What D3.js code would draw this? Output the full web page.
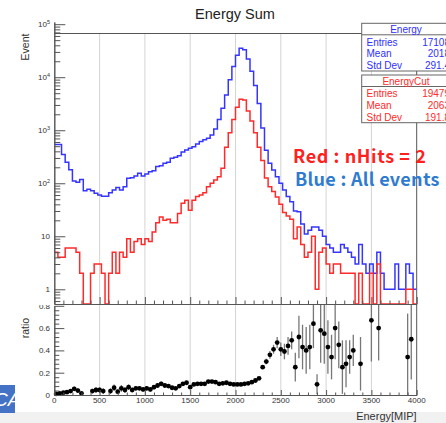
<!DOCTYPE html>
<html lang="en">
<head>
<meta charset="UTF-8">
<title>Energy Sum</title>
<script src="https://cdn.jsdelivr.net/npm/d3@7"></script>
<style>
  body { margin: 0; background: #fff; }
  svg { display: block; font-family: "Liberation Sans", Arial, sans-serif; }
</style>
</head>
<body>
<svg width="446" height="423"></svg>
<script>
// 100 bins of 40 MIP, 0 - 4000
var binWidth = 40;
var nBins = 100;

// all events (blue)
var blueAll = [
  540, 540, 350, 250, 180, 110, 104, 118, 72, 77,
  72, 65, 60, 57, 57, 66, 75, 83, 75, 86,
  124, 127, 137, 154, 137, 150, 165, 173, 207, 215,
  238, 250, 297, 310, 330, 390, 425, 456, 490, 550,
  610, 660, 705, 815, 1050, 1600, 2600, 4600, 9000, 16000,
  26000, 35000, 33000, 22000, 13000, 7000, 3200, 1100, 420, 238,
  178, 133, 100, 75, 56, 45, 30, 29, 17, 11,
  13, 15, 15, 13, 10, 7, 6, 5, 5, 7,
  6, 5, 4, 3, 7, 3, 2, 3, 2, 5,
  2, 1, 1, 1, 3, 1, 1, 3, 2, 1
];

// nHits == 2 (red)
var redCut = [
  5, 4, 4, 6, 6, 6, 5, 2, 0, 0,
  2, 3, 3, 2, 0, 2, 5, 2, 5, 4,
  9, 5, 8, 9, 7, 9, 8, 12, 18, 23,
  20, 21, 18, 18, 27, 42, 48, 31, 48, 56,
  60, 66, 86, 100, 115, 133, 192, 480, 900, 1600,
  2700, 3850, 3700, 2300, 1500, 900, 480, 270, 126, 86,
  70, 55, 40, 28, 24, 21, 9, 15, 7, 4,
  5, 10, 1, 5, 6, 3, 2, 3, 3, 2,
  2, 2, 2, 0, 2, 0, 0, 2, 0, 3,
  0, 0, 0, 0, 0, 0, 0, 1, 1, 0
];

// ratio red / blue per bin (null = no point)
var ratio = [
  .01, .015, .02, .025, .035, .055, .04, .015, null, null,
  .035, .045, .045, .035, null, .035, .065, .03, .06, .045,
  .07, .045, .06, .06, .05, .06, .05, .07, .085, .1,
  .085, .08, .065, .06, .08, .1, .11, .07, .095, .1,
  .1, .1, .12, .12, .115, .1, .105, .11, .1, .095,
  .095, .095, .1, .105, .115, .13, .15, .25, .3, .36,
  .41, .47, .41, .39, .44, .49, .25, .52, .43, .4,
  .43, .64, .096, .58, .55, .43, .34, .6, .45, .25,
  .28, .34, .4, null, .28, null, null, .67, null, .6,
  null, null, null, null, null, null, null, .34, .5, null
];
var ratioErr = [
  .005, .008, .01, .01, .015, .02, .02, .01, 0, 0,
  .02, .025, .025, .025, 0, .025, .03, .02, .03, .025,
  .025, .02, .02, .02, .02, .02, .02, .02, .02, .02,
  .02, .015, .015, .015, .015, .015, .015, .012, .012, .012,
  .012, .012, .012, .01, .01, .008, .006, .005, .004, .003,
  .002, .002, .002, .003, .004, .006, .008, .015, .025, .035,
  .04, .05, .06, .07, .08, .08, .13, .19, .2, .21,
  .2, .22, .09, .29, .27, .24, .2, .28, .21, .24,
  .21, .15, .14, 0, .24, 0, 0, .37, 0, .29,
  0, 0, 0, 0, 0, 0, 0, .39, .36, 0
];

var xMajor = [0, 500, 1000, 1500, 2000, 2500, 3000, 3500, 4000];
var yDecades = [1, 10, 100, 1000, 10000, 100000];
var ratioMajor = [0, 0.2, 0.4, 0.6, 0.8];

var stats = [
  {name: 'Energy', color: '#2f2fff', rows: [['Entries', '17108'], ['Mean', '2018'], ['Std Dev', '291.4']]},
  {name: 'EnergyCut', color: '#ff2a2a', rows: [['Entries', '19479'], ['Mean', '2063'], ['Std Dev', '191.8']]}
];

var svg = d3.select('svg');
var left = 54.3, right = 416.7;
var upTop = 22, upBot = 304;
var loTop = 305, loBot = 395;

var x = d3.scaleLinear().domain([0, 4000]).range([left, right]);
var y = d3.scaleLog().domain([0.528, 110000]).range([upBot, upTop]);
var yr = d3.scaleLinear().domain([0, 0.8]).range([loBot, 305.8]);

var axisCol = '#555';

// bits of the slide around the chart
svg.append('rect').attr('x', 0).attr('y', 412).attr('width', 446).attr('height', 11).attr('fill', '#f1f1f1');
svg.append('clipPath').attr('id', 'caclip').append('rect')
  .attr('x', 0).attr('y', 385).attr('width', 15).attr('height', 28);
svg.append('rect').attr('x', 0).attr('y', 385).attr('width', 15).attr('height', 28).attr('fill', '#4472c4');
svg.append('text').attr('x', -6).attr('y', 406).attr('fill', '#fff').attr('font-size', 19)
  .attr('font-style', 'italic').attr('clip-path', 'url(#caclip)').text('CA');
svg.append('text').attr('x', 0).attr('y', -3).attr('font-size', 14).attr('font-weight', 'bold').text('up');

// title
svg.append('text').attr('x', 235).attr('y', 18.5).attr('text-anchor', 'middle')
  .attr('font-size', 14.5).attr('fill', '#222').text('Energy Sum');

// ---------- upper pad ----------
var up = svg.append('g');

// grid
up.selectAll('.grid').data(xMajor.slice(1, -1)).enter().append('line')
  .attr('x1', d => x(d)).attr('x2', d => x(d))
  .attr('y1', 33.5).attr('y2', upBot)
  .attr('stroke', '#d4d4d4').attr('stroke-width', 1);

// frame top / right
up.append('line').attr('x1', left).attr('x2', 362).attr('y1', 33.5).attr('y2', 33.5).attr('stroke', axisCol);
up.append('line').attr('x1', right).attr('x2', right).attr('y1', 33.5).attr('y2', upBot).attr('stroke', axisCol);

// histograms
up.append('clipPath').attr('id', 'upclip').append('rect')
  .attr('x', left).attr('y', upTop).attr('width', right - left).attr('height', upBot - upTop + 1);

function stepPts(vals) {
  var pts = vals.map((v, i) => [i * binWidth, v]);
  pts.push([nBins * binWidth, vals[vals.length - 1]]);
  return pts;
}
var histLine = d3.line()
  .x(d => x(d[0]))
  .y(d => d[1] > 0 ? y(d[1]) : upBot)
  .curve(d3.curveStepAfter);

up.append('path').datum(stepPts(blueAll)).attr('d', histLine)
  .attr('fill', 'none').attr('stroke', '#3535ff').attr('stroke-width', 1.5).attr('clip-path', 'url(#upclip)');
up.append('path').datum(stepPts(redCut)).attr('d', histLine)
  .attr('fill', 'none').attr('stroke', '#ff2a2a').attr('stroke-width', 1.5).attr('clip-path', 'url(#upclip)');

// y axis (log)
var minorLog = [];
[0.1, 1, 10, 100, 1000, 10000].forEach(function (dec) {
  for (var m = 2; m <= 9; m++) {
    var v = dec * m;
    if (v > y.domain()[0] && v < y.domain()[1]) minorLog.push(v);
  }
});
var yMaj = up.append('g').attr('transform', 'translate(' + left + ',0)')
  .call(d3.axisLeft(y).tickValues(yDecades).tickSize(-11).tickSizeOuter(0).tickFormat(''));
var yMin = up.append('g').attr('transform', 'translate(' + left + ',0)')
  .call(d3.axisLeft(y).tickValues(minorLog).tickSize(-6).tickSizeOuter(0).tickFormat(''));
[yMaj, yMin].forEach(g => { g.selectAll('line, path').attr('stroke', axisCol); });

yDecades.forEach(function (d) {
  var t = up.append('text').attr('x', 50).attr('y', y(d) + 3).attr('text-anchor', 'end')
    .attr('font-size', 8).attr('fill', '#333');
  if (d === 1) t.text('1');
  else if (d === 10) t.text('10');
  else {
    t.append('tspan').text('10');
    t.append('tspan').attr('dy', -3.5).attr('font-size', 5.5).text(Math.round(Math.log10(d)));
  }
});

// x axis of the upper pad (no labels)
var xMinor = d3.range(0, 4001, 100).filter(d => d % 500 !== 0);
var uxMaj = up.append('g').attr('transform', 'translate(0,' + upBot + ')')
  .call(d3.axisBottom(x).tickValues(xMajor).tickSize(-7).tickSizeOuter(0).tickFormat(''));
var uxMin = up.append('g').attr('transform', 'translate(0,' + upBot + ')')
  .call(d3.axisBottom(x).tickValues(xMinor).tickSize(-3.5).tickSizeOuter(0).tickFormat(''));
[uxMaj, uxMin].forEach(g => { g.selectAll('line, path').attr('stroke', axisCol); });

up.append('text').attr('transform', 'translate(28.5,47) rotate(-90)').attr('text-anchor', 'middle')
  .attr('font-size', 10.5).attr('fill', '#333').text('Event');

// stat boxes
var boxX = 361.7, boxW = 100;
var boxTops = [23.3, 75];
stats.forEach(function (s, k) {
  var by = boxTops[k];
  var gb = svg.append('g');
  gb.append('rect').attr('x', boxX).attr('y', by).attr('width', boxW).attr('height', 47.7)
    .attr('fill', '#fff').attr('stroke', '#666').attr('stroke-width', 1);
  gb.append('line').attr('x1', boxX).attr('x2', boxX + boxW).attr('y1', by + 11.5).attr('y2', by + 11.5)
    .attr('stroke', '#666');
  gb.append('text').attr('x', 406).attr('y', by + 9.5).attr('text-anchor', 'middle')
    .attr('font-size', 10).attr('fill', s.color).text(s.name);
  s.rows.forEach(function (r, j) {
    var ty = by + 22.3 + j * 11.7;
    gb.append('text').attr('x', 366.5).attr('y', ty).attr('font-size', 10).attr('fill', s.color).text(r[0]);
    gb.append('text').attr('x', 450).attr('y', ty).attr('text-anchor', 'end')
      .attr('font-size', 10).attr('fill', s.color).text(r[1]);
  });
});

// annotations
svg.append('text').attr('x', 293).attr('y', 163).attr('font-size', 18).attr('font-weight', 'bold')
  .attr('letter-spacing', 0.6)
  .attr('font-family', '"Noto Sans CJK JP", "Noto Sans", sans-serif')
  .attr('fill', '#ff2020').text('Red : nHits = 2');
svg.append('text').attr('x', 295).attr('y', 185.5).attr('font-size', 18).attr('font-weight', 'bold')
  .attr('letter-spacing', 0.3)
  .attr('font-family', '"Noto Sans CJK JP", "Noto Sans", sans-serif')
  .attr('fill', '#2e7bcf').text('Blue : All events');

// ---------- lower pad ----------
var lo = svg.append('g');
lo.append('clipPath').attr('id', 'loclip').append('rect')
  .attr('x', 0).attr('y', loTop).attr('width', 446).attr('height', loBot - loTop + 30);
var loIn = lo.append('g').attr('clip-path', 'url(#loclip)');

loIn.selectAll('.lgrid').data(xMajor.slice(1, -1)).enter().append('line')
  .attr('x1', d => x(d)).attr('x2', d => x(d))
  .attr('y1', loTop).attr('y2', loBot)
  .attr('stroke', '#d4d4d4');
loIn.append('line').attr('x1', right).attr('x2', right).attr('y1', loTop).attr('y2', loBot).attr('stroke', axisCol);

var pts = ratio.map((r, i) => ({c: i * binWidth + binWidth / 2, r: r, e: ratioErr[i]})).filter(d => d.r !== null);
loIn.selectAll('.err').data(pts.filter(d => d.e > 0)).enter().append('line')
  .attr('x1', d => x(d.c)).attr('x2', d => x(d.c))
  .attr('y1', d => yr(Math.max(0, d.r - d.e))).attr('y2', d => yr(d.r + d.e))
  .attr('stroke', '#777').attr('stroke-width', 1.3);
loIn.selectAll('.pt').data(pts).enter().append('circle')
  .attr('cx', d => x(d.c)).attr('cy', d => yr(d.r)).attr('r', 2.4).attr('fill', '#000');

var ratioMinor = d3.range(0, 0.81, 0.04).filter(d => Math.abs(d / 0.2 - Math.round(d / 0.2)) > 0.01);
var lyMaj = loIn.append('g').attr('transform', 'translate(' + left + ',0)')
  .call(d3.axisLeft(yr).tickValues(ratioMajor).tickSize(-10).tickSizeOuter(0).tickFormat(''));
var lyMin = loIn.append('g').attr('transform', 'translate(' + left + ',0)')
  .call(d3.axisLeft(yr).tickValues(ratioMinor).tickSize(-5).tickSizeOuter(0).tickFormat(''));
[lyMaj, lyMin].forEach(g => { g.selectAll('line, path').attr('stroke', axisCol); });
ratioMajor.forEach(function (d) {
  loIn.append('text').attr('x', 50).attr('y', yr(d) + 3).attr('text-anchor', 'end')
    .attr('font-size', 8).attr('fill', '#333').text(d === 0 ? '0' : d3.format('.1f')(d));
});

var lxMaj = lo.append('g').attr('transform', 'translate(0,' + loBot + ')')
  .call(d3.axisBottom(x).tickValues(xMajor).tickSize(-5).tickSizeOuter(0).tickFormat(''));
var lxMin = lo.append('g').attr('transform', 'translate(0,' + loBot + ')')
  .call(d3.axisBottom(x).tickValues(xMinor).tickSize(-2.5).tickSizeOuter(0).tickFormat(''));
[lxMaj, lxMin].forEach(g => { g.selectAll('line, path').attr('stroke', axisCol); });
xMajor.forEach(function (d) {
  lo.append('text').attr('x', x(d)).attr('y', 403).attr('text-anchor', 'middle')
    .attr('font-size', 8).attr('fill', '#333').text(d);
});

lo.append('text').attr('transform', 'translate(28.5,328) rotate(-90)').attr('text-anchor', 'middle')
  .attr('font-size', 10.5).attr('fill', '#333').text('ratio');
lo.append('text').attr('x', right).attr('y', 420).attr('text-anchor', 'end')
  .attr('font-size', 11).attr('fill', '#333').text('Energy[MIP]');
</script>
</body>
</html>
